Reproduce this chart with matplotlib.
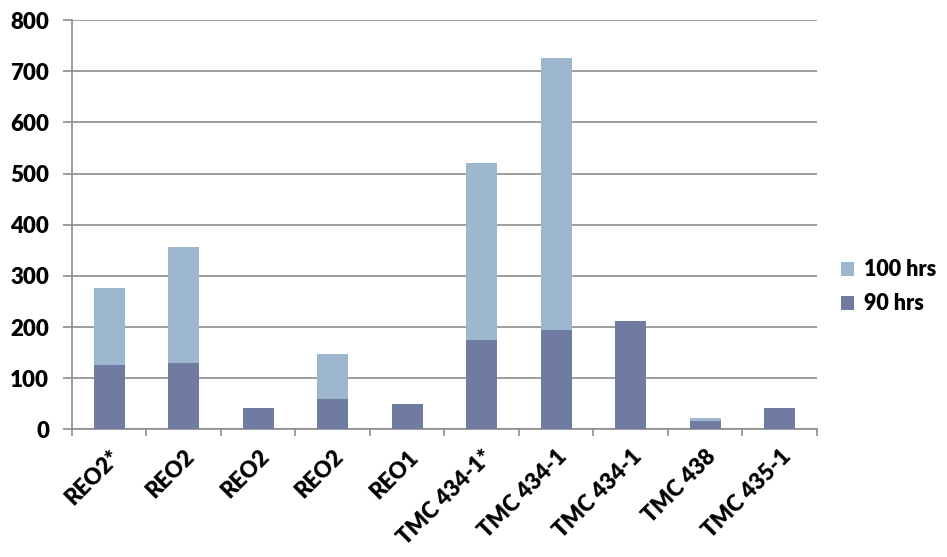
import matplotlib
matplotlib.use("Agg")
import matplotlib.pyplot as plt
from matplotlib.patches import Patch
import numpy as np

categories = ["REO2*", "REO2", "REO2", "REO2", "REO1",
              "TMC 434-1*", "TMC 434-1", "TMC 434-1", "TMC 438", "TMC 435-1"]
hrs_90 = [125, 129, 42, 59, 50, 175, 195, 212, 17, 41]
hrs_100 = [151, 228, 0, 89, 0, 345, 530, 0, 6, 0]
yticks = [0, 100, 200, 300, 400, 500, 600, 700, 800]

dark = "#6f7ba1"
light = "#9db7cf"
grid = "#8c8c8c"

plt.rcParams["font.family"] = ["Lato", "DejaVu Sans"]

fs = 16
fw = "heavy"

fig = plt.figure(figsize=(9.47, 5.57), dpi=100)
ax = fig.add_axes([0.076, 0.229, 0.7867, 0.735])

x = np.arange(len(categories))
ax.bar(x, hrs_90, width=0.42, color=dark, zorder=3)
ax.bar(x, hrs_100, width=0.42, bottom=hrs_90, color=light, zorder=3)

ax.set_xlim(-0.5, len(categories) - 0.5)
ax.set_ylim(0, 800)
ax.set_yticks(yticks)
ax.set_yticklabels([str(v) for v in yticks], fontsize=fs, fontweight=fw)
ax.yaxis.grid(True, color=grid, linewidth=1.2, zorder=0)
ax.tick_params(axis="y", length=6.5, width=1.2, color=grid, pad=10)

ax.set_xticks(x)
ax.set_xticklabels(categories, rotation=45, ha="right", rotation_mode="anchor",
                   fontsize=fs, fontweight=fw)
ax.tick_params(axis="x", length=0, pad=12)
ax.set_xticks(np.arange(-0.5, len(categories)), minor=True)
ax.tick_params(axis="x", which="minor", length=5, width=1.2, color=grid)

for side in ("top", "right"):
    ax.spines[side].set_visible(False)
for side in ("left", "bottom"):
    ax.spines[side].set_color(grid)
    ax.spines[side].set_linewidth(1.2)

handles = [Patch(facecolor=light, label="100 hrs"), Patch(facecolor=dark, label="90 hrs")]
fig.legend(handles=handles, loc="center left", bbox_to_anchor=(0.888, 0.485),
           frameon=False, borderpad=0, borderaxespad=0,
           handlelength=0.6, handleheight=0.6,
           handletextpad=0.45, labelspacing=0.6, prop={"weight": fw, "size": 15.5})

fig.savefig("out.png", dpi=100)
